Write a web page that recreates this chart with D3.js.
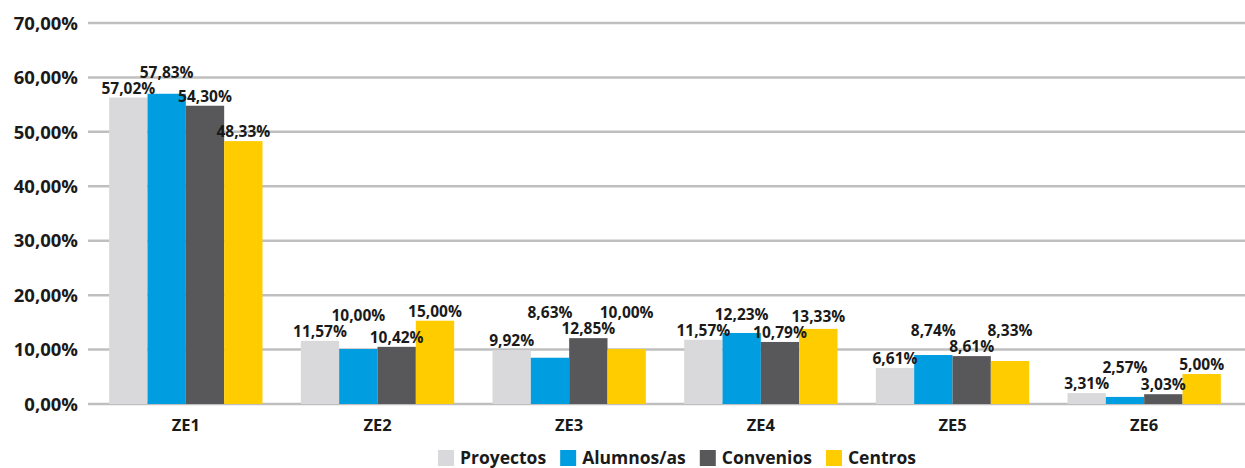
<!DOCTYPE html>
<meta charset='utf-8'>
<html>
<head>
    <script src="https://cdn.jsdelivr.net/npm/d3@7"></script>
    <style>
        body { margin: 0; padding: 0; background: #fff; }
        text { font-family: "Open Sans", sans-serif; font-weight: bold; fill: #1a1a1a; }
    </style>
</head>
<body>
    <svg id="chart" width="1245" height="468"></svg>
    <script>
        // data
        var categories = ['ZE1', 'ZE2', 'ZE3', 'ZE4', 'ZE5', 'ZE6'];
        var series = ['Proyectos', 'Alumnos/as', 'Convenios', 'Centros'];
        var colors = ['#d9d9db', '#009ee0', '#58585a', '#ffcc00'];

        // bar heights as drawn (%)
        var proyectos = [56.3, 11.6, 9.9, 11.8, 6.6, 2.0];
        var alumnos = [57.0, 10.1, 8.5, 13.05, 9.0, 1.3];
        var convenios = [54.8, 10.5, 12.1, 11.4, 8.8, 1.8];
        var centros = [48.3, 15.3, 10.1, 13.8, 7.9, 5.5];

        // data labels as printed
        var proyectosLbl = ['57,02%', '11,57%', '9,92%', '11,57%', '6,61%', '3,31%'];
        var alumnosLbl = ['57,83%', '10,00%', '8,63%', '12,23%', '8,74%', '2,57%'];
        var conveniosLbl = ['54,30%', '10,42%', '12,85%', '10,79%', '8,61%', '3,03%'];
        var centrosLbl = ['48,33%', '15,00%', '10,00%', '13,33%', '8,33%', '5,00%'];

        var yTicks = [0, 10, 20, 30, 40, 50, 60, 70];

        var values = [proyectos, alumnos, convenios, centros];
        var labels = [proyectosLbl, alumnosLbl, conveniosLbl, centrosLbl];

        var svg = d3.select('#chart');
        var plotLeft = 90, plotRight = 1240, plotTop = 23, plotBottom = 404;

        var y = d3.scaleLinear().domain([0, 70]).range([plotBottom, plotTop]);
        var x0 = d3.scaleBand().domain(categories).range([plotLeft, plotRight])
            .paddingInner(0.2).paddingOuter(0.1);
        var x1 = d3.scaleBand().domain(series).range([0, x0.bandwidth()]);

        // grid
        svg.append('g').selectAll('line')
            .data(yTicks).enter().append('line')
            .attr('x1', 88).attr('x2', 1245)
            .attr('y1', d => y(d)).attr('y2', d => y(d))
            .attr('stroke', '#bfbfbf').attr('stroke-width', 2.5);

        svg.append('g').selectAll('text')
            .data(yTicks).enter().append('text')
            .attr('x', 78).attr('y', d => y(d))
            .attr('dy', '0.36em')
            .attr('text-anchor', 'end')
            .style('font-size', '18.5px')
            .text(d => d3.format('.2f')(d).replace('.', ',') + '%');

        // bars
        var rows = [];
        categories.forEach(function (c, i) {
            series.forEach(function (s, j) {
                rows.push({ cat: c, s: s, j: j, v: values[j][i], lbl: labels[j][i] });
            });
        });

        svg.append('g').selectAll('rect')
            .data(rows).enter().append('rect')
            .attr('x', d => x0(d.cat) + x1(d.s))
            .attr('width', x1.bandwidth())
            .attr('y', d => y(d.v))
            .attr('height', d => y(0) - y(d.v))
            .attr('fill', d => colors[d.j]);

        // data labels: proyectos/convenios sit on their bar, the other two are lifted clear of neighbours
        var lh = 13, gap = 4;
        rows.forEach(function (d) { d.ly = y(d.v) - gap; });
        categories.forEach(function (c) {
            var grp = rows.filter(r => r.cat === c);
            [1, 3].forEach(function (j) {
                var d = grp[j];
                var neigh = [grp[j - 1], grp[j + 1]].filter(Boolean);
                var moved = true;
                while (moved) {
                    moved = false;
                    neigh.forEach(function (n) {
                        if (d.ly > n.ly - lh - 1 && d.ly - lh < n.ly + 1) {
                            d.ly = n.ly - lh - 3;
                            moved = true;
                        }
                    });
                }
            });
        });

        svg.append('g').selectAll('text')
            .data(rows).enter().append('text')
            .attr('x', d => x0(d.cat) + x1(d.s) + x1.bandwidth() / 2)
            .attr('y', d => d.ly)
            .attr('text-anchor', 'middle')
            .style('font-size', '15.5px')
            .text(d => d.lbl);

        // category labels
        svg.append('g').selectAll('text')
            .data(categories).enter().append('text')
            .attr('x', d => x0(d) + x0.bandwidth() / 2)
            .attr('y', 431)
            .attr('text-anchor', 'middle')
            .style('font-size', '16.5px')
            .text(d => d);

        // legend
        var legend = svg.append('g');
        var lx = 0;
        series.forEach(function (s, j) {
            var g = legend.append('g').attr('transform', 'translate(' + lx + ',0)');
            g.append('rect').attr('x', 0).attr('y', -8).attr('width', 16).attr('height', 16)
                .attr('fill', colors[j]);
            var t = g.append('text').attr('x', 22).attr('y', 0).attr('dy', '0.36em')
                .style('font-size', '17.5px').text(s);
            lx += 22 + t.node().getComputedTextLength() + 14;
        });
        var lw = lx - 14;
        legend.attr('transform', 'translate(' + (677 - lw / 2) + ',458)');
    </script>
</body>
</html>
